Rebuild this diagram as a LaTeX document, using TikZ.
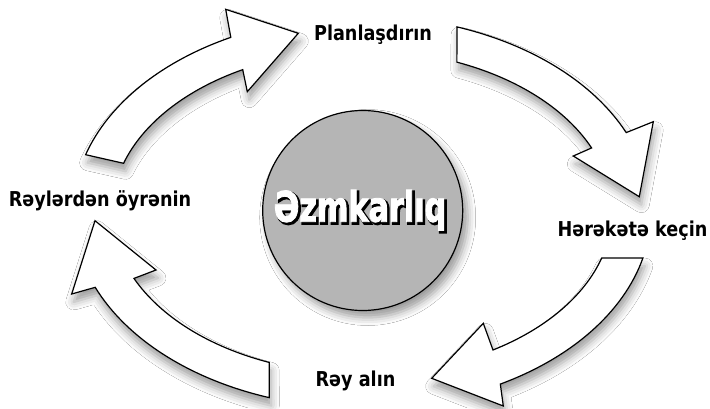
\documentclass[tikz,border=0pt]{standalone}
\usepackage{fontspec}
\setmainfont{DejaVu Sans}
\newfontfamily\labelfont{DejaVu Sans}[FakeStretch=0.86]
\newfontfamily\heavyfont{DejaVu Sans}[FakeStretch=0.72, FakeBold=2]
\newfontfamily\rimfont{DejaVu Sans}[FakeStretch=0.72, FakeBold=6]
\usetikzlibrary{calc,shadows.blur}
\definecolor{hubgray}{RGB}{181,181,181}
\tikzset{
  cyclearrow/.style={draw=black, line width=1.2pt, fill=white, line join=miter,
    blur shadow={shadow xshift=2pt, shadow yshift=-8pt, shadow blur radius=8pt, shadow opacity=38}},
  hub/.style={circle, draw=black, line width=1.2pt, fill=hubgray, minimum size=200pt, inner sep=0pt,
    blur shadow={shadow xshift=5pt, shadow yshift=-7pt, shadow blur radius=8pt, shadow opacity=40}},
  steplabel/.style={anchor=base, inner sep=0pt, font=\labelfont\bfseries\fontsize{20.5}{24}\selectfont},
  hubtext/.style={anchor=base, inner sep=0pt, font=\heavyfont\bfseries\fontsize{42}{50}\selectfont},
  hubrim/.style={anchor=base, inner sep=0pt, font=\rimfont\bfseries\fontsize{42}{50}\selectfont}
}
\begin{document}
\begin{tikzpicture}[x=1pt, y=-1pt]
  \useasboundingbox (0,0) rectangle (710,408);
  \fill[white] (0,0) rectangle (710,408);
  \coordinate (O) at (362,212);

  % four curved arrows on the band between the two ellipses
  \draw[cyclearrow]
    ($(O)+(197:289 and 196)$) arc[start angle=197, end angle=243, x radius=289, y radius=196]
    -- (225.7,9.3) -- (298.3,33.3) -- (247.3,91.7)
    -- ($(O)+(241.5:250 and 162)$) arc[start angle=241.5, end angle=197.5, x radius=250, y radius=162]
    -- cycle;
  \draw[cyclearrow]
    ($(O)+(289.2:289 and 196)$) arc[start angle=289.2, end angle=336.1, x radius=289, y radius=196]
    -- (653.3,121.7) -- (639.3,196.7) -- (573.3,156)
    -- ($(O)+(336.7:250 and 162)$) arc[start angle=336.7, end angle=292.3, x radius=250, y radius=162]
    -- cycle;
  \draw[cyclearrow]
    ($(O)+(13.6:289 and 196)$) arc[start angle=13.6, end angle=61.4, x radius=289, y radius=196]
    -- (503.3,406) -- (431.7,378.3) -- (483.3,323.3)
    -- ($(O)+(58.4:250 and 162)$) arc[start angle=58.4, end angle=16.5, x radius=250, y radius=162]
    -- cycle;
  \draw[cyclearrow]
    ($(O)+(108.7:289 and 196)$) arc[start angle=108.7, end angle=157.4, x radius=289, y radius=196]
    -- (71.7,294) -- (95,220.7) -- (156,270)
    -- ($(O)+(155.8:250 and 162)$) arc[start angle=155.8, end angle=111.8, x radius=250, y radius=162]
    -- cycle;

  % central disc
  \node[hub] (hub) at (362.7,210.5) {};

  % central word: dark rim shifted down-right, white face on top
  \node[hubrim, text=black] (wordrim) at (361.8,223.5) {Əzmkarlıq};
  \node[hubtext, text=white] (word) at (360,221.7) {Əzmkarlıq};

  % step labels
  \node[steplabel] (plan) at (373,40.7) {Planlaşdırın};
  \node[steplabel] (act) at (632.5,236.7) {Hərəkətə keçin};
  \node[steplabel] (feedback) at (355.5,386.7) {Rəy alın};
  \node[steplabel] (learn) at (100,206) {Rəylərdən öyrənin};
\end{tikzpicture}
\end{document}
